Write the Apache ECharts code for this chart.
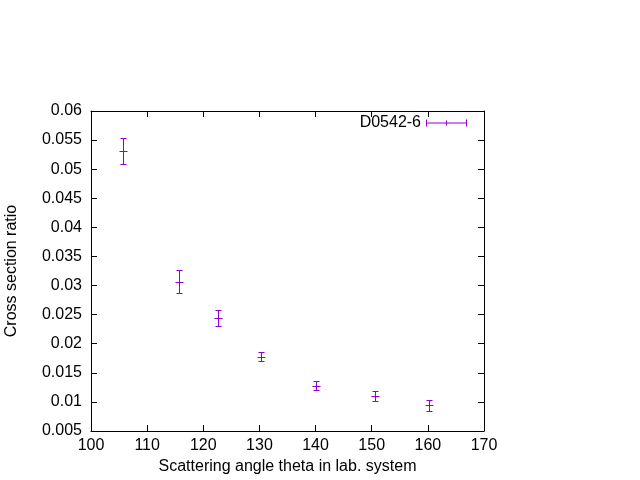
<!DOCTYPE html>
<html>
<head>
<meta charset="utf-8">
<script src="https://cdn.jsdelivr.net/npm/echarts@6/dist/echarts.min.js"></script>
<style>html,body{margin:0;padding:0;background:#fff}#c{width:640px;height:480px}</style>
</head>
<body>
<div id="c"></div>
<script>
var seriesName = 'D0542-6';
var theta = [105.75, 115.6, 122.7, 130.3, 140.1, 150.6, 160.25];
var ratio = [0.0531, 0.0306, 0.0244, 0.0178, 0.0128, 0.0110, 0.0094];
var errLow = [0.0022, 0.0019, 0.0014, 0.0008, 0.0008, 0.00086, 0.00104];
var errHigh = [0.0022, 0.0020, 0.0014, 0.0008, 0.00076, 0.00086, 0.00100];
var xTicks = [100, 110, 120, 130, 140, 150, 160, 170];
var yTicks = ['0.005','0.01','0.015','0.02','0.025','0.03','0.035','0.04','0.045','0.05','0.055','0.06'];

var color = '#9400d3';
var font = 'Liberation Sans, Arial, sans-serif';
var data = theta.map(function (t, i) { return [t, ratio[i], ratio[i] - errLow[i], ratio[i] + errHigh[i]]; });

function renderItem(params, api) {
  var c = api.coord([api.value(0), api.value(1)]);
  var lo = api.coord([api.value(0), api.value(2)]);
  var hi = api.coord([api.value(0), api.value(3)]);
  var x = Math.round(c[0]) + 0.5;
  var st = { stroke: color, lineWidth: 1 };
  function ln(x1, y1, x2, y2) {
    return { type: 'line', shape: { x1: x1, y1: y1, x2: x2, y2: y2 }, style: st };
  }
  var yl = Math.round(lo[1]) + 0.5, yh = Math.round(hi[1]) + 0.5, yc = Math.round(c[1]) + 0.5;
  return { type: 'group', children: [
    ln(x, yl, x, yh),
    ln(x - 3, yl, x + 3, yl),
    ln(x - 3, yh, x + 3, yh),
    ln(x - 4, yc, x + 4, yc)
  ]};
}

var axisCommon = {
  axisLine: { show: true, lineStyle: { color: '#000', width: 1 } },
  axisTick: { show: true, inside: true, length: 6, lineStyle: { color: '#000' } },
  splitLine: { show: false }
};

var chart = echarts.init(document.getElementById('c'), null, { renderer: 'canvas' });
chart.setOption({
  animation: false,
  backgroundColor: '#fff',
  grid: { left: 91, right: 156, top: 111, bottom: 49, containLabel: false, outerBoundsMode: 'none' },
  legend: {
    right: 168, top: 110, align: 'right',
    itemWidth: 41, itemHeight: 7, itemGap: 8,
    textStyle: { fontFamily: font, fontSize: 16, color: '#000' },
    data: [{ name: seriesName, icon: 'path://M0,3h41v1h-41z M0,0h1v7h-1z M20,1h1v5h-1z M40,0h1v7h-1z', itemStyle: { color: color } }]
  },
  xAxis: [
    Object.assign({}, axisCommon, {
      type: 'value', min: 100, max: 170, interval: 10, position: 'bottom',
      name: 'Scattering angle theta in lab. system', nameLocation: 'middle', nameGap: 27,
      nameTextStyle: { fontFamily: font, fontSize: 16, color: '#000' },
      axisLabel: { fontFamily: font, fontSize: 16, color: '#000', margin: 7,
        formatter: function (v) { return xTicks.indexOf(v) >= 0 ? String(v) : ''; } }
    }),
    Object.assign({}, axisCommon, {
      type: 'value', min: 100, max: 170, interval: 10, position: 'top',
      axisLabel: { show: false }
    })
  ],
  yAxis: [
    Object.assign({}, axisCommon, {
      type: 'value', min: 0.005, max: 0.06, interval: 0.005, position: 'left',
      name: 'Cross section ratio', nameLocation: 'middle', nameGap: 71,
      nameTextStyle: { fontFamily: font, fontSize: 16, color: '#000' },
      axisLabel: { fontFamily: font, fontSize: 16, color: '#000', margin: 9,
        formatter: function (v) {
          var s = String(Math.round(v * 1000) / 1000);
          return yTicks.indexOf(s) >= 0 ? s : '';
        } }
    }),
    Object.assign({}, axisCommon, {
      type: 'value', min: 0.005, max: 0.06, interval: 0.005, position: 'right',
      axisLabel: { show: false }
    })
  ],
  series: [{
    name: seriesName,
    type: 'custom',
    renderItem: renderItem,
    itemStyle: { color: color },
    encode: { x: 0, y: [1, 2, 3] },
    data: data
  }]
});
</script>
</body>
</html>
